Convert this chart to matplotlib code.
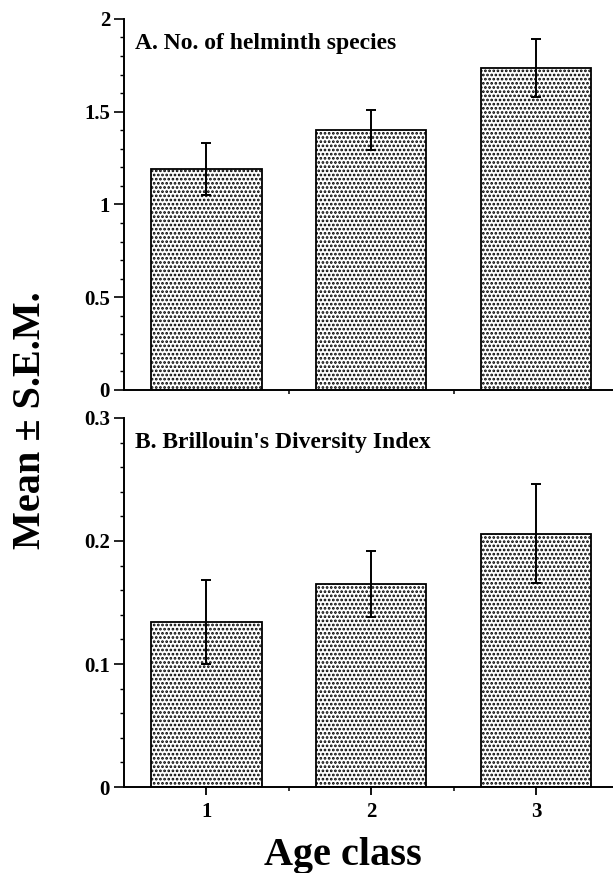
import matplotlib.pyplot as plt
from matplotlib.ticker import MultipleLocator, FixedLocator

plt.rcParams['font.family'] = ['Liberation Serif', 'DejaVu Serif']
plt.rcParams['font.weight'] = 'bold'
plt.rcParams['hatch.linewidth'] = 1.3

# 年龄组
age_class = [1, 2, 3]

# A. 蠕虫种数 (均值, 标准误)
species_mean = [1.19, 1.40, 1.735]
species_sem = [0.14, 0.107, 0.155]
species_ticks = [0, 0.5, 1, 1.5, 2]
species_labels = ['0', '0.5', '1', '1.5', '2']

# B. Brillouin 多样性指数
brillouin_mean = [0.134, 0.165, 0.206]
brillouin_sem = [0.034, 0.027, 0.040]
brillouin_ticks = [0, 0.1, 0.2, 0.3]
brillouin_labels = ['0', '0.1', '0.2', '0.3']

fig = plt.figure(figsize=(6.13, 8.73), dpi=100)
ax1 = fig.add_axes([0.2023, 0.5533, 0.8067, 0.425])
ax2 = fig.add_axes([0.2023, 0.0985, 0.8067, 0.4227])


def draw_panel(ax, means, sems, ticks, ticklabels, minor, title, labels):
    ax.bar(age_class, means, width=0.67, color='white', edgecolor='black',
           linewidth=1.3, hatch='....', zorder=2)
    ax.errorbar(age_class, means, yerr=sems, fmt='none', ecolor='black',
                elinewidth=1.4, capsize=3.4, capthick=1.4, zorder=3)
    ax.set_xlim(0.5, 3.5)
    ax.set_ylim(ticks[0], ticks[-1])
    ax.set_yticks(ticks)
    ax.set_yticklabels(ticklabels)
    ax.yaxis.set_minor_locator(MultipleLocator(minor))
    for side in ['top', 'right']:
        ax.spines[side].set_visible(False)
    for side in ['left', 'bottom']:
        ax.spines[side].set_linewidth(1.4)
    ax.tick_params(axis='y', which='major', direction='out', length=7, width=1.2,
                   labelsize=15, pad=3)
    ax.tick_params(axis='y', which='minor', direction='out', length=3, width=1.0)
    ax.tick_params(axis='x', which='major', direction='out', length=6, width=1.3,
                   labelsize=15, pad=5)
    ax.tick_params(axis='x', which='minor', direction='out', length=3, width=1.1)
    ax.text(0.022, 0.918, title, transform=ax.transAxes, fontsize=17,
            fontweight='bold', va='baseline', ha='left')
    if labels:
        ax.set_xticks(age_class)
        ax.set_xticklabels([str(a) for a in age_class])
    else:
        ax.set_xticks([])
    ax.xaxis.set_minor_locator(FixedLocator([1.5, 2.5]))


draw_panel(ax1, species_mean, species_sem, species_ticks, species_labels, 0.1,
           'A. No. of helminth species', False)
draw_panel(ax2, brillouin_mean, brillouin_sem, brillouin_ticks, brillouin_labels,
           0.02, "B. Brillouin's Diversity Index", True)

fig.text(0.049, 0.519, 'Mean ± S.E.M.', rotation=90, fontsize=29,
         fontweight='bold', ha='center', va='center')
fig.text(0.56, 0.009, 'Age class', fontsize=29, fontweight='bold',
         ha='center', va='baseline')

plt.savefig('out.png', dpi=100)
